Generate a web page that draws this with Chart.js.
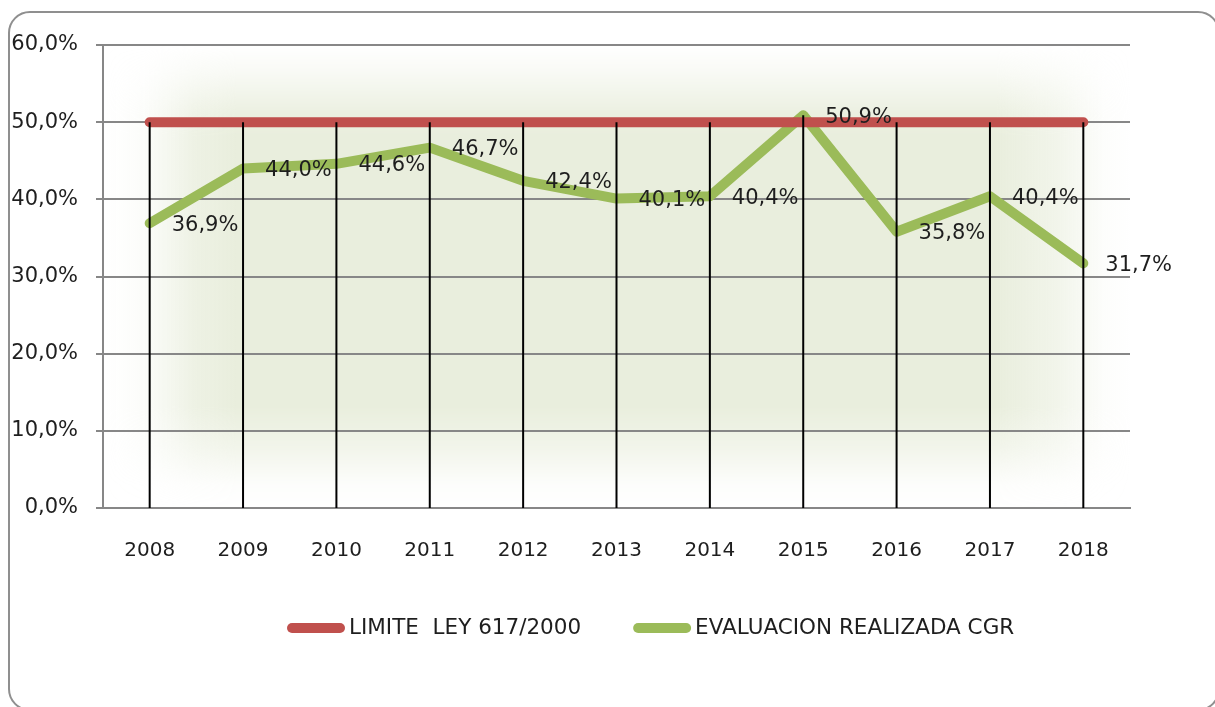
<!DOCTYPE html>
<html>
<head>
<meta charset="utf-8">
<script src="https://cdn.jsdelivr.net/npm/chart.js@4.4.0/dist/chart.umd.min.js"></script>
<style>
  html, body { margin: 0; padding: 0; background: #fff; overflow: hidden; }
  #wrap { position: relative; width: 1215px; height: 707px; }
  /* rounded chart frame, partly cut by the window like the reference */
  #frame {
    position: absolute; left: 8px; top: 11px; width: 1212px; height: 700px;
    box-sizing: border-box; border: 2px solid #8f8f8f; border-radius: 22px;
  }
  #chart { position: absolute; left: 0; top: 0; }
</style>
</head>
<body>
<div id="wrap">
  <div id="frame"></div>
  <canvas id="chart" width="1215" height="707"></canvas>
</div>
<script>
// Chart data
const years = ['2008', '2009', '2010', '2011', '2012', '2013', '2014', '2015', '2016', '2017', '2018'];
const limitValues = [50, 50, 50, 50, 50, 50, 50, 50, 50, 50, 50]; // LIMITE LEY 617/2000
const evalValues = [36.9, 44.0, 44.6, 46.7, 42.4, 40.1, 40.4, 50.9, 35.8, 40.4, 31.7]; // EVALUACION REALIZADA CGR
const seriesNames = ['LIMITE  LEY 617/2000', 'EVALUACION REALIZADA CGR'];
const yMin = 0, yMax = 60, yStep = 10;

const RED = '#C0504D';
const GREEN = '#9BBB59';
const GRID = '#878787';
const TEXT = '#1e1e1e';
const FONT = '"DejaVu Sans", Verdana, sans-serif';

// Spanish style percent: 36,9%
const fmtPct = v => Number(v).toFixed(1).replace('.', ',') + '%';

// Soft-edged olive fill behind the plot area (horizontal fade x vertical fade)
const plotBackground = {
  id: 'plotBackground',
  beforeDraw(chart) {
    const { ctx, chartArea: a } = chart;
    const w = Math.round(a.right - a.left), h = Math.round(a.bottom - a.top);
    const off = document.createElement('canvas');
    off.width = w; off.height = h;
    const o = off.getContext('2d');
    const c = '233,238,221';
    const gx = o.createLinearGradient(0, 0, w, 0);
    [[0, 0], [0.04, 0.15], [0.09, 0.8], [0.13, 1], [0.87, 1], [0.93, 0.6], [0.975, 0.1], [1, 0]]
      .forEach(([p, al]) => gx.addColorStop(p, `rgba(${c},${al})`));
    o.fillStyle = gx;
    o.fillRect(0, 0, w, h);
    o.globalCompositeOperation = 'destination-in';
    const gy = o.createLinearGradient(0, 0, 0, h);
    [[0, 0], [0.06, 0.3], [0.15, 0.9], [0.2, 1], [0.78, 1], [0.87, 0.6], [0.95, 0.1], [1, 0]]
      .forEach(([p, al]) => gy.addColorStop(p, `rgba(0,0,0,${al})`));
    o.fillStyle = gy;
    o.fillRect(0, 0, w, h);
    ctx.drawImage(off, a.left, a.top);
  }
};

// Excel style drop lines from the highest point of each year to the axis, then value labels
const dropLinesAndLabels = {
  id: 'dropLinesAndLabels',
  afterDatasetsDraw(chart) {
    const { ctx, chartArea } = chart;
    const metas = chart.data.datasets.map((d, i) => chart.getDatasetMeta(i));
    ctx.save();
    ctx.strokeStyle = '#000';
    ctx.lineWidth = 2;
    years.forEach((y, i) => {
      const top = Math.min(...metas.map(m => m.data[i].y));
      const x = metas[0].data[i].x;
      ctx.beginPath();
      ctx.moveTo(x, top);
      ctx.lineTo(x, chartArea.bottom);
      ctx.stroke();
    });
    // data labels of the evaluation series, right of each point
    ctx.fillStyle = TEXT;
    ctx.font = '21px ' + FONT;
    ctx.textAlign = 'left';
    ctx.textBaseline = 'middle';
    metas[1].data.forEach((pt, i) => {
      ctx.fillText(fmtPct(evalValues[i]), pt.x + 22, pt.y + 2);
    });
    ctx.restore();
  }
};

// Legend drawn under the axis, placed like the reference
const bottomLegend = {
  id: 'bottomLegend',
  afterDraw(chart) {
    const { ctx } = chart;
    const y = 628;
    let x = 287;
    ctx.save();
    ctx.font = '21.5px ' + FONT;
    ctx.textBaseline = 'middle';
    ctx.textAlign = 'left';
    chart.data.datasets.forEach(ds => {
      ctx.strokeStyle = ds.borderColor;
      ctx.lineWidth = 10;
      ctx.lineCap = 'round';
      ctx.beginPath();
      ctx.moveTo(x + 5, y);
      ctx.lineTo(x + 53, y);
      ctx.stroke();
      ctx.fillStyle = TEXT;
      ctx.fillText(ds.label, x + 62, y);
      x += 62 + ctx.measureText(ds.label).width + 52;
    });
    ctx.restore();
  }
};

new Chart(document.getElementById('chart'), {
  type: 'line',
  data: {
    labels: years,
    datasets: [
      {
        label: seriesNames[0],
        data: limitValues,
        borderColor: RED,
        backgroundColor: RED,
        borderWidth: 10,
        borderCapStyle: 'round',
        borderJoinStyle: 'round',
        pointRadius: 0,
        tension: 0,
      },
      {
        label: seriesNames[1],
        data: evalValues,
        borderColor: GREEN,
        backgroundColor: GREEN,
        borderWidth: 10,
        borderCapStyle: 'round',
        borderJoinStyle: 'round',
        pointRadius: 0,
        tension: 0,
      },
    ],
  },
  options: {
    responsive: false,
    animation: false,
    devicePixelRatio: 1,
    layout: { padding: { top: 45, left: 0, right: 85, bottom: 138 } },
    plugins: {
      legend: { display: false },
      tooltip: { enabled: false },
    },
    scales: {
      x: {
        offset: true,
        grid: { display: false },
        border: { display: true, color: GRID, width: 2 },
        ticks: { color: TEXT, font: { family: FONT, size: 20 }, padding: 23 },
        afterFit: scale => { scale.height = 61; },
      },
      y: {
        min: yMin,
        max: yMax,
        grid: { color: GRID, lineWidth: 2, tickLength: 7, drawTicks: true },
        border: { display: true, color: GRID, width: 2 },
        ticks: {
          stepSize: yStep,
          color: TEXT,
          padding: 18,
          font: { family: FONT, size: 21 },
          callback: v => fmtPct(v),
        },
        afterFit: scale => { scale.width = 103; },
      },
    },
  },
  plugins: [plotBackground, dropLinesAndLabels, bottomLegend],
});
</script>
</body>
</html>
